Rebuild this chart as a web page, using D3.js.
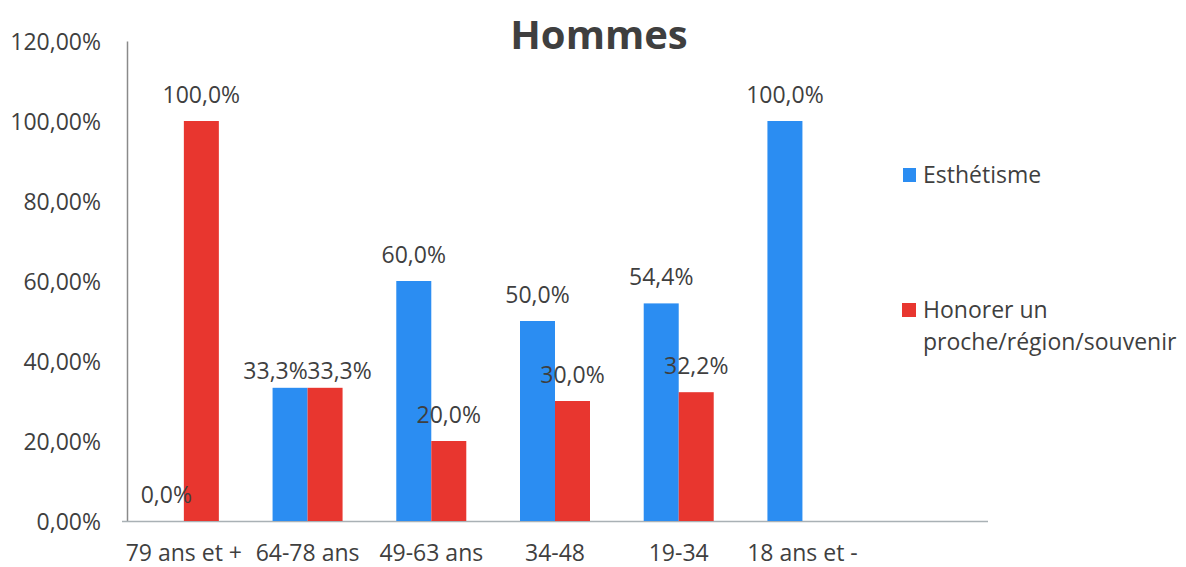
<!DOCTYPE html>
<html><head><meta charset="utf-8">
<script src="https://cdn.jsdelivr.net/npm/d3@7"></script>
<style>body{margin:0;background:#fff}svg{display:block}text{font-family:"Open Sans",sans-serif;fill:#3f3f3f}</style>
</head><body><svg id="c" width="1186" height="567"></svg>
<script>
const categories = ["79 ans et +","64-78 ans","49-63 ans","34-48","19-34","18 ans et -"];
const esthetisme = [0, 33.3, 60.0, 50.0, 54.4, 100.0];
const honorer = [100.0, 33.3, 20.0, 30.0, 32.2, null];
const seriesNames = ["Esthétisme","Honorer un proche/région/souvenir"];
const yTicks = [0,20,40,60,80,100,120];
const colors = ["#2b8df2","#e8362f"];

const svg = d3.select("#c");
const fs = "23px";
const x0 = 122, x1 = 988, slots = 7;
const step = (x1-x0)/slots;
const x = d3.scaleBand().domain(categories).range([x0, x0+step*categories.length]).padding(0);
const y = d3.scaleLinear().domain([0,120]).range([521,41]);
const bw = 35;
const fmt = v => v.toFixed(1).replace(".",",")+"%";

svg.append("text").attr("x",599).attr("y",49).attr("text-anchor","middle")
  .style("font-size","40px").style("font-weight","700").text("Hommes");

// y axis
const ya = svg.append("g").attr("transform","translate(127,0)")
  .call(d3.axisLeft(y).tickValues(yTicks).tickSize(0).tickPadding(26).tickFormat(d=>d.toFixed(2).replace(".",",")+"%"));
ya.select(".domain").attr("stroke","#8a8a8a").attr("stroke-width",1.5);
ya.selectAll("text").style("font-size",fs).style("font-family","'Open Sans',sans-serif").attr("fill","#3f3f3f").attr("dy","0.35em");

// x axis
const xa = svg.append("g").attr("transform","translate(0,521)")
  .call(d3.axisBottom(x).tickSize(0).tickPadding(24));
xa.select(".domain").remove();
svg.append("line").attr("x1",x0).attr("x2",x1).attr("y1",521.5).attr("y2",521.5).attr("stroke","#a9b1b5").attr("stroke-width",1.5);
xa.selectAll("text").style("font-size",fs).style("font-family","'Open Sans',sans-serif").attr("fill","#3f3f3f");

const series = [esthetisme, honorer];
const labelInfo = [];
series.forEach((vals, si) => {
  vals.forEach((v, i) => {
    if (v === null) return;
    const cx = x(categories[i]) + x.bandwidth()/2;
    const bx = si === 0 ? cx - bw : cx;
    svg.append("rect").attr("x",bx).attr("y",y(v)).attr("width",bw).attr("height",y(0)-y(v)).attr("fill",colors[si]);
    labelInfo.push({si, i, v, cx: bx + bw/2, cy: y(v) - 26});
  });
});
// avoid overlapping labels within one category
categories.forEach((c,i) => {
  const ls = labelInfo.filter(l => l.i === i);
  if (ls.length === 2 && Math.abs(ls[0].cy - ls[1].cy) < 20) {
    const mid = (ls[0].cx + ls[1].cx)/2;
    ls[0].cx = mid - 32; ls[1].cx = mid + 32;
    ls[0].cy = ls[1].cy = Math.min(ls[0].cy, ls[1].cy) + 9;
  }
});
labelInfo.forEach(l => {
  svg.append("text").attr("x",l.cx).attr("y",l.cy).attr("dy","0.35em").attr("text-anchor","middle")
    .style("font-size",fs).text(fmt(l.v));
});

// legend
const lg = svg.append("g");
lg.append("rect").attr("x",903).attr("y",168).attr("width",13).attr("height",14).attr("fill",colors[0]);
lg.append("text").attr("x",923).attr("y",175).attr("dy","0.35em").style("font-size",fs).text(seriesNames[0]);
lg.append("rect").attr("x",902).attr("y",303).attr("width",14).attr("height",14).attr("fill",colors[1]);
const t2 = lg.append("text").attr("x",923).attr("y",310).attr("dy","0.35em").style("font-size",fs);
t2.append("tspan").attr("x",923).text("Honorer un");
t2.append("tspan").attr("x",923).attr("dy","1.4em").text("proche/région/souvenir");
</script></body></html>
